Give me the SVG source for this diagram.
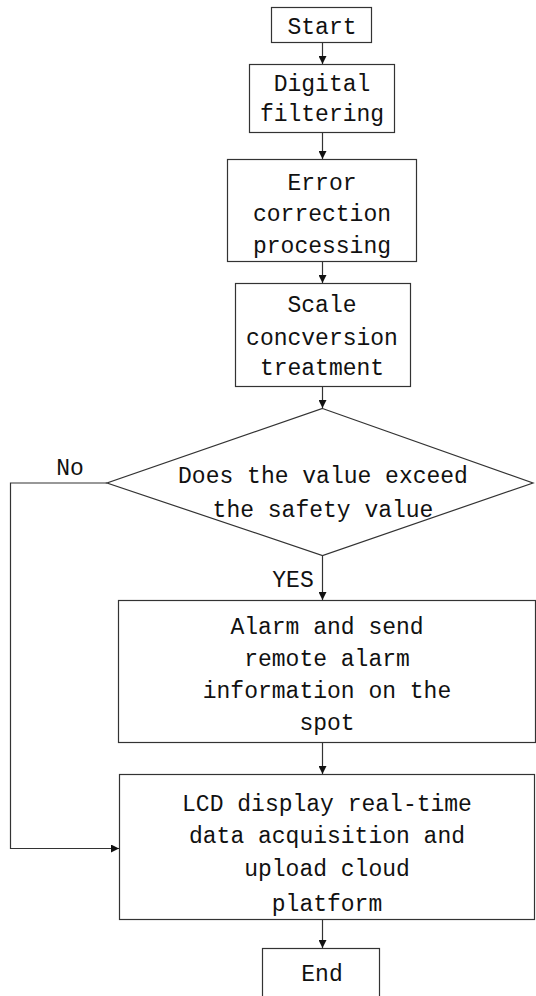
<svg xmlns="http://www.w3.org/2000/svg" width="536" height="996" viewBox="0 0 536 996">
<style>
.box{fill:#fff;stroke:#333;stroke-width:1.2}
.ln{fill:none;stroke:#333;stroke-width:1.2}
text{font-family:"Liberation Mono","DejaVu Sans Mono",monospace;font-size:23px;fill:#111;text-anchor:middle}
</style>
<defs>
<marker id="ah" viewBox="0 0 10 10" refX="10" refY="5" markerWidth="8" markerHeight="8" markerUnits="userSpaceOnUse" orient="auto">
<path d="M0,0L10,5L0,10z" fill="#111"/>
</marker>
</defs>
<g id="connectors">
<line class="ln" x1="322.5" y1="43" x2="322.5" y2="64" marker-end="url(#ah)"/>
<line class="ln" x1="322.5" y1="133" x2="322.5" y2="159" marker-end="url(#ah)"/>
<line class="ln" x1="322.5" y1="262" x2="322.5" y2="283" marker-end="url(#ah)"/>
<line class="ln" x1="322.5" y1="387" x2="322.5" y2="408" marker-end="url(#ah)"/>
<line class="ln" x1="322.5" y1="555" x2="322.5" y2="600" marker-end="url(#ah)"/>
<line class="ln" x1="322.5" y1="743" x2="322.5" y2="774" marker-end="url(#ah)"/>
<line class="ln" x1="322.5" y1="919" x2="322.5" y2="948" marker-end="url(#ah)"/>
<polyline class="ln" points="107,483 10.5,483 10.5,848.5 119,848.5" marker-end="url(#ah)"/>
<text x="70" y="475">No</text>
<text x="293" y="587">YES</text>
</g>
<g id="start">
<rect class="box" x="271.5" y="7.5" width="100" height="35"/>
<text x="322" y="34">Start</text>
</g>
<g id="filter">
<rect class="box" x="249.5" y="64.5" width="145" height="68"/>
<text x="322" y="91">Digital</text>
<text x="322" y="121">filtering</text>
</g>
<g id="error">
<rect class="box" x="227.5" y="159.5" width="189" height="102"/>
<text x="322" y="190">Error</text>
<text x="322" y="221">correction</text>
<text x="322" y="253">processing</text>
</g>
<g id="scale">
<rect class="box" x="235.5" y="283.5" width="175" height="103"/>
<text x="322" y="312">Scale</text>
<text x="322" y="345">concversion</text>
<text x="322" y="375">treatment</text>
</g>
<g id="decision">
<polygon class="box" points="322.5,408.5 533,483 322.5,555.5 107,483"/>
<text x="323" y="483">Does the value exceed</text>
<text x="323" y="517">the safety value</text>
</g>
<g id="alarm">
<rect class="box" x="118.5" y="600.5" width="417" height="142"/>
<text x="327" y="634">Alarm and send</text>
<text x="327" y="666">remote alarm</text>
<text x="327" y="698">information on the</text>
<text x="327" y="730">spot</text>
</g>
<g id="lcd">
<rect class="box" x="119.5" y="774.5" width="415" height="145"/>
<text x="327" y="811">LCD display real-time</text>
<text x="327" y="843">data acquisition and</text>
<text x="327" y="876">upload cloud</text>
<text x="327" y="911">platform</text>
</g>
<g id="end">
<rect class="box" x="262.5" y="948.5" width="117" height="60"/>
<text x="322" y="981">End</text>
</g>
</svg>
